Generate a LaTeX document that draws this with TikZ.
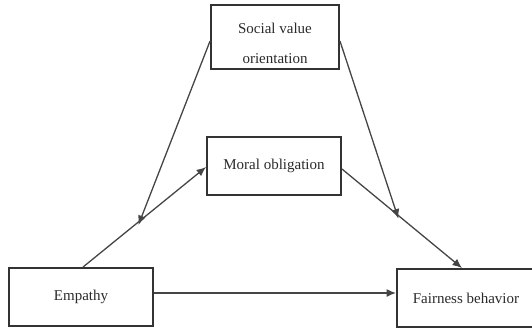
\documentclass[tikz,border=0pt]{standalone}
\usepackage{fontspec}
\setmainfont{Liberation Serif}
\usetikzlibrary{arrows.meta,calc}
\definecolor{boxline}{HTML}{333333}
\definecolor{arrline}{HTML}{454545}
\definecolor{txt}{HTML}{2A2A2A}
\tikzset{
  varbox/.style={draw=boxline, line width=1.9pt, rectangle, inner sep=0pt,
    text=txt, font=\fontsize{15}{30}\selectfont, align=center},
  vartext/.style={text=txt, font=\fontsize{15}{30}\selectfont, align=center, inner sep=0pt},
  conn/.style={draw=arrline, line width=1.3pt, -{Latex[length=9.5pt,width=8pt]}}
}
\begin{document}
\begin{tikzpicture}[x=1pt,y=-1pt]
\useasboundingbox (0,0) rectangle (532,331);
\clip (0,0) rectangle (532,331);
\node[varbox, minimum width=128pt, minimum height=64pt] (svo) at (275,37) {};
\node[vartext] (svotext) at (275,43) {Social value\\orientation};
\node[varbox, minimum width=134pt, minimum height=58pt] (mor) at (274,166) {\raisebox{-2pt}{Moral obligation}};
\node[varbox, minimum width=144pt, minimum height=58pt] (emp) at (81,297) {\raisebox{-3pt}{Empathy}};
\node[varbox, minimum width=138pt, minimum height=58pt] (fair) at (466,298) {\raisebox{-2pt}{Fairness behavior}};
% connectors
\coordinate (e1) at ([xshift=2pt]emp.north);
\coordinate (m1) at ([yshift=-1pt]mor.west);
\coordinate (m2) at ([yshift=-3pt]mor.east);
\coordinate (f1) at ([xshift=-4pt]fair.north);
\draw[conn] (e1) -- (m1);
\draw[conn] (m2) -- (f1);
\draw[conn] (emp.east |- 0,293) -- (fair.west |- 0,293);
\coordinate (p1) at ($(e1)!0.45!(m1)$);
\coordinate (p2) at ($(m2)!0.47!(f1)$);
\draw[conn] ([yshift=-4pt]svo.west) -- ([yshift=-3pt]p1);
\draw[conn] ([yshift=-4pt]svo.east) -- ([yshift=-3pt]p2);
\end{tikzpicture}
\end{document}
